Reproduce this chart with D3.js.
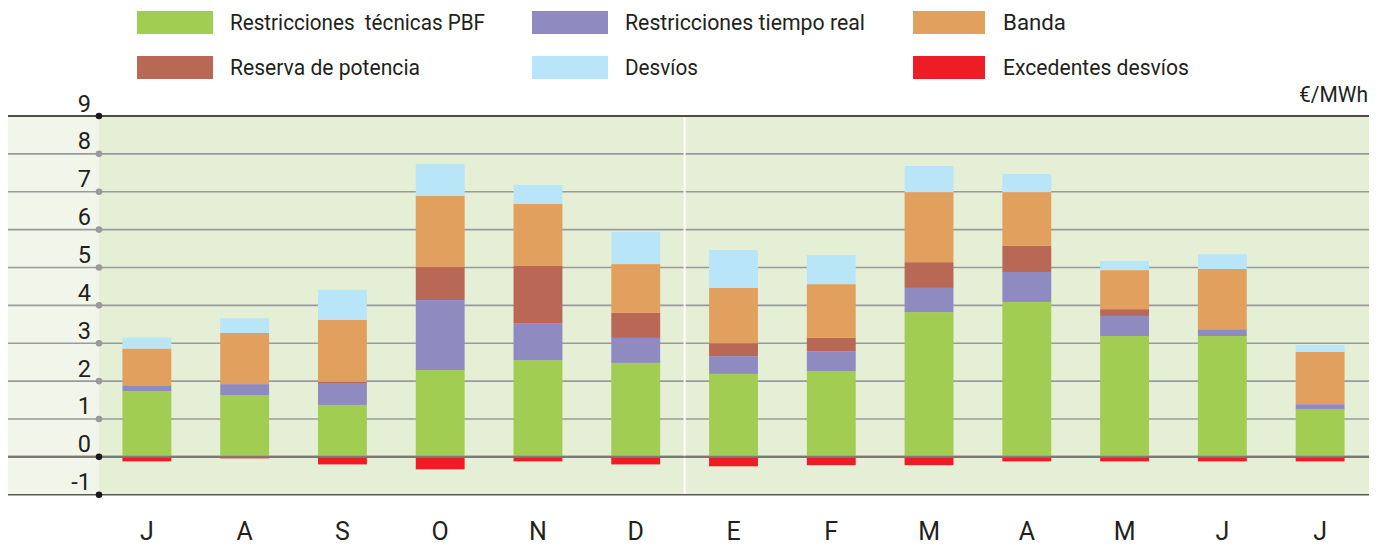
<!DOCTYPE html>
<html><head><meta charset="utf-8">
<script src="https://cdn.jsdelivr.net/npm/d3@7"></script>
<style>
html,body{margin:0;padding:0;background:#fff;}
svg{display:block;}
text{font-family:Roboto,"Open Sans",sans-serif;fill:#231f20;white-space:pre;}
</style></head>
<body><svg id="c" width="1385" height="545"></svg>
<script>
const months = ["J","A","S","O","N","D","E","F","M","A","M","J","J"];
const seriesNames = ["Restricciones  técnicas PBF","Restricciones tiempo real","Reserva de potencia","Banda","Desvíos","Excedentes desvíos"];
const pbf        = [1.73,1.63,1.37,2.29,2.55,2.48,2.19,2.26,3.82,4.09,3.19,3.19,1.26];
const tiempoReal = [0.16,0.29,0.58,1.85,0.98,0.66,0.47,0.53,0.64,0.79,0.53,0.18,0.13];
const reserva    = [0.00,0.00,0.03,0.87,1.51,0.66,0.34,0.35,0.68,0.69,0.18,0.00,0.00];
const banda      = [0.97,1.35,1.64,1.88,1.64,1.29,1.46,1.42,1.85,1.42,1.03,1.59,1.38];
const desvios    = [0.29,0.39,0.79,0.84,0.50,0.85,1.00,0.77,0.69,0.48,0.24,0.39,0.18];
const excedentes = [-0.12,-0.04,-0.20,-0.33,-0.12,-0.20,-0.25,-0.22,-0.22,-0.12,-0.12,-0.12,-0.12];
const yTicks = [-1,0,1,2,3,4,5,6,7,8,9];
const unitLabel = "€/MWh";

const colors = ["#a1cd53","#8f8bc1","#b86855","#e2a05f","#b8e5f8","#ee1d25"];

const svg = d3.select("#c");
const left0 = 8, plotL = 98, plotR = 1369;
const y = d3.scaleLinear().domain([-1,9]).range([494.7,116]);
const idx = months.map((m,i)=>i);
const x = d3.scaleBand().domain(idx).range([plotL,plotR]).paddingInner(0.5).paddingOuter(0.25);

// backgrounds
svg.append("rect").attr("x",left0).attr("y",y(9)).attr("width",plotL-left0+1).attr("height",y(-1)-y(9)).attr("fill","#f2f6ea");
svg.append("rect").attr("x",plotL+1).attr("y",y(9)).attr("width",plotR-plotL-1).attr("height",y(-1)-y(9)).attr("fill","#e5efd6");

// gridlines
yTicks.forEach(v=>{
  let col = "#9a9a9a", w = 1.6;
  if (v===9) {col="#4d4d44"; w=2;}
  if (v===0) {col="#7a7a72"; w=2.2;}
  if (v===-1) {col="#5a5a55"; w=1.6;}
  svg.append("line").attr("x1",left0).attr("x2",plotR).attr("y1",y(v)).attr("y2",y(v))
    .attr("stroke",col).attr("stroke-width",w);
});

// separator between D and E
const sepX = (x(5)+x.bandwidth() + x(6))/2;
svg.append("line").attr("x1",sepX).attr("x2",sepX).attr("y1",y(9)+1.5).attr("y2",y(-1)-1)
  .attr("stroke","#ffffff").attr("stroke-width",2);

// stacked bars
const rows = idx.map(i=>({i, pbf:pbf[i], tr:tiempoReal[i], res:reserva[i], banda:banda[i], desv:desvios[i]}));
const keys = ["pbf","tr","res","banda","desv"];
const stack = d3.stack().keys(keys)(rows);
stack.forEach((layer,k)=>{
  svg.append("g").selectAll("rect").data(layer).join("rect")
    .attr("x",d=>x(d.data.i)).attr("width",x.bandwidth())
    .attr("y",d=>y(d[1])).attr("height",d=>Math.max(0,y(d[0])-y(d[1])))
    .attr("fill",colors[k]);
});
svg.append("g").selectAll("rect").data(excedentes).join("rect")
  .attr("x",(d,i)=>x(i)).attr("width",x.bandwidth())
  .attr("y",y(0)).attr("height",d=>y(d)-y(0))
  .attr("fill",colors[5]);

// redraw zero line above bars
svg.append("line").attr("x1",left0).attr("x2",plotR).attr("y1",y(0)).attr("y2",y(0))
  .attr("stroke","#7a7a72").attr("stroke-width",2.2).attr("opacity",0.85);

// y ticks dots and labels
yTicks.forEach(v=>{
  const dark = (v===9||v===0||v===-1);
  svg.append("circle").attr("cx",plotL+1).attr("cy",y(v)).attr("r",3.3).attr("fill",dark?"#1a1a1a":"#9a9a9a");
  svg.append("text").attr("x",91).attr("y",y(v)-4.5).attr("text-anchor","end")
    .attr("font-size",23.5).text(v);
});

// x axis labels
const xAxis = d3.axisBottom(x).tickSize(0).tickFormat(i=>months[i]);
const gx = svg.append("g").attr("transform",`translate(0,${y(-1)})`).call(xAxis);
gx.select(".domain").remove();
gx.selectAll("text").attr("font-size",25).attr("dy",0).attr("y",45.3)
  .style("font-family",'Roboto,"Open Sans",sans-serif').attr("fill","#231f20");

// unit
svg.append("text").attr("x",1368).attr("y",102).attr("text-anchor","end").attr("font-size",22)
  .attr("textLength",69).attr("lengthAdjust","spacingAndGlyphs").text(unitLabel);

// legend
const legend = [
  {s:0, col:0, row:0, w:255},
  {s:1, col:1, row:0, w:240},
  {s:3, col:2, row:0, w:63},
  {s:2, col:0, row:1, w:190},
  {s:4, col:1, row:1, w:73},
  {s:5, col:2, row:1, w:186}
];
const colX = [137,532,913], colW=[76,76,72], textX=[230,625,1003], rowY=[11,56];
legend.forEach(l=>{
  svg.append("rect").attr("x",colX[l.col]).attr("y",rowY[l.row]).attr("width",colW[l.col]).attr("height",23)
    .attr("fill",colors[l.s]);
  svg.append("text").attr("x",textX[l.col]).attr("y",rowY[l.row]+19).attr("font-size",22)
    .attr("textLength",l.w).attr("lengthAdjust","spacingAndGlyphs").text(seriesNames[l.s]);
});
</script></body></html>
